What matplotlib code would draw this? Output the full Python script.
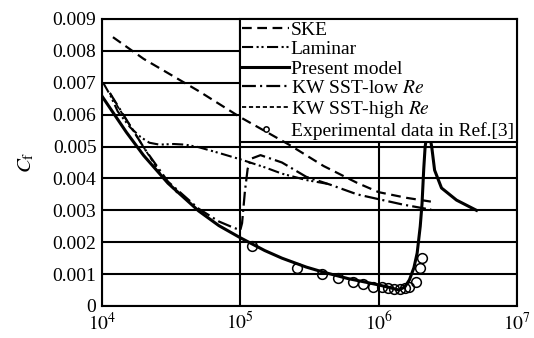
import matplotlib
matplotlib.use("Agg")
import matplotlib.pyplot as plt
from matplotlib.ticker import FixedLocator, NullLocator

plt.rcParams["font.family"] = "Liberation Serif"
plt.rcParams["mathtext.fontset"] = "stix"
plt.rcParams["lines.scale_dashes"] = False

# SKE (fully turbulent)
re_ske = [1.2e4, 2e4, 5e4, 1e5, 1.5e5, 2.27e5, 4e5, 7e5, 1e6, 1.6e6, 2.5e6]
cf_ske = [8.43e-3, 7.75e-3, 6.74e-3, 5.92e-3, 5.49e-3, 5.05e-3, 4.39e-3, 3.86e-3, 3.57e-3, 3.39e-3, 3.26e-3]

# laminar
re_lam = [1.02e4, 1.15e4, 1.3e4, 1.6e4, 1.9e4, 2.2e4, 2.6e4, 3.3e4, 4e4, 5e4, 7e4, 1e5, 1.5e5, 2e5, 3e5, 4.4e5]
cf_lam = [7.0e-3, 6.6e-3, 6.1e-3, 5.6e-3, 5.3e-3, 5.12e-3, 5.06e-3, 5.08e-3, 5.06e-3, 4.98e-3, 4.8e-3, 4.6e-3, 4.35e-3, 4.15e-3, 3.95e-3, 3.82e-3]

# present model
re_pm = [1e4, 1.5e4, 2e4, 3e4, 5e4, 7e4, 1e5, 1.5e5, 2e5, 3e5, 4e5, 6e5, 8e5, 1e6, 1.2e6,
         1.4e6, 1.55e6, 1.67e6, 1.8e6, 1.9e6, 2.0e6, 2.06e6, 2.12e6, 2.17e6, 2.28e6,
         2.42e6, 2.54e6, 2.85e6, 3.66e6, 5.1e6]
cf_pm = [6.58e-3, 5.45e-3, 4.72e-3, 3.85e-3, 2.98e-3, 2.52e-3, 2.14e-3, 1.74e-3, 1.50e-3, 1.22e-3,
         1.06e-3, 0.86e-3, 0.75e-3, 0.66e-3, 0.58e-3,
         0.50e-3, 0.60e-3, 0.82e-3, 1.2e-3, 1.66e-3, 2.5e-3, 3.2e-3, 4.3e-3, 5.0e-3, 5.6e-3,
         5.0e-3, 4.26e-3, 3.7e-3, 3.32e-3, 3.0e-3]

# KW SST-low Re
re_low = [1.14e4, 1.59e4, 2.04e4, 3e4, 5e4, 7e4, 9e4, 1e5, 1.03e5, 1.08e5, 1.13e5, 1.2e5, 1.4e5,
          2e5, 3e5, 4.5e5, 7e5, 1e6, 1.5e6, 2.4e6]
cf_low = [6.68e-3, 5.67e-3, 4.92e-3, 3.9e-3, 3.05e-3, 2.65e-3, 2.45e-3, 2.38e-3, 2.6e-3, 3.6e-3,
          4.3e-3, 4.62e-3, 4.73e-3, 4.5e-3, 4.05e-3, 3.8e-3, 3.5e-3, 3.35e-3, 3.18e-3, 3.02e-3]

# KW SST-high Re
re_high = [1.14e4, 1.3e4, 1.59e4, 2.04e4, 2.75e4, 3.5e4]
cf_high = [6.68e-3, 6.25e-3, 5.67e-3, 4.92e-3, 4.04e-3, 3.55e-3]

# experimental data, Ref.[3]
re_exp = [1.21e5, 2.56e5, 3.87e5, 5.06e5, 6.49e5, 7.66e5, 9.06e5, 1.05e6, 1.17e6, 1.30e6,
          1.42e6, 1.54e6, 1.67e6, 1.85e6, 1.98e6, 2.06e6]
cf_exp = [1.88e-3, 1.19e-3, 1.0e-3, 0.88e-3, 0.75e-3, 0.69e-3, 0.6e-3, 0.6e-3, 0.56e-3, 0.53e-3,
          0.53e-3, 0.56e-3, 0.6e-3, 0.75e-3, 1.19e-3, 1.5e-3]

xticks = [1e4, 1e5, 1e6, 1e7]
xtick_labels = [r"$10^{4}$", r"$10^{5}$", r"$10^{6}$", r"$10^{7}$"]
yticks = [0, 0.001, 0.002, 0.003, 0.004, 0.005, 0.006, 0.007, 0.008, 0.009]
ytick_labels = ["0", "0.001", "0.002", "0.003", "0.004", "0.005", "0.006", "0.007", "0.008", "0.009"]


def main():
    fig = plt.figure(figsize=(5.34, 3.38), dpi=100)
    ax = fig.add_axes([0.191, 0.0947, 0.777, 0.8491])

    ax.plot(re_ske, cf_ske, color="k", lw=1.6, ls=(0, (7, 4)), zorder=3, label="SKE")
    ax.plot(re_lam, cf_lam, color="k", lw=1.5, ls=(0, (8, 2.5, 1.5, 2, 1.5, 2.5)), zorder=3, label="Laminar")
    ax.plot(re_pm, cf_pm, color="k", lw=2.2, zorder=2, label="Present model")
    ax.plot(re_low, cf_low, color="k", lw=1.6, ls=(0, (10, 3, 1.5, 3)), zorder=3, label=r"KW SST-low $Re$")
    ax.plot(re_high, cf_high, color="k", lw=1.3, ls=(0, (3, 2)), zorder=3, label=r"KW SST-high $Re$")
    ax.plot(re_exp, cf_exp, ls="none", marker="o", ms=7, mfc="none", mec="k", mew=1.1,
            zorder=4, label="Experimental data in Ref.[3]")

    ax.set_xscale("log")
    ax.set_xlim(1e4, 1e7)
    ax.set_ylim(0, 0.009)
    ax.xaxis.set_major_locator(FixedLocator(xticks))
    ax.xaxis.set_minor_locator(NullLocator())
    ax.set_xticklabels(xtick_labels)
    ax.set_yticks(yticks)
    ax.set_yticklabels(ytick_labels)
    ax.tick_params(length=0, labelsize=14, pad=4)

    ax.set_axisbelow(True)
    ax.grid(True, color="k", lw=1.5)
    for s in ax.spines.values():
        s.set_linewidth(1.5)

    ax.set_ylabel(r"$C_{\mathrm{f}}$", fontsize=15, labelpad=12)
    fig.text(0.58, 0.002, r"$Re$", fontsize=15, ha="center", va="top")

    # legend box sits between the 1e5 line and the right spine, above Cf = 0.005
    leg = ax.legend(loc="upper left", bbox_to_anchor=(1 / 3, 0.5556, 2 / 3, 0.4444), mode="expand",
                    borderaxespad=0, fontsize=14, frameon=True, fancybox=False, framealpha=1,
                    edgecolor="k", borderpad=0.1, labelspacing=0.1, handlelength=2.4,
                    handletextpad=0.1, markerscale=0.55)
    leg.get_frame().set_linewidth(1.5)
    leg.set_zorder(2.5)

    fig.savefig("out.png", dpi=100)


if __name__ == "__main__":
    main()
